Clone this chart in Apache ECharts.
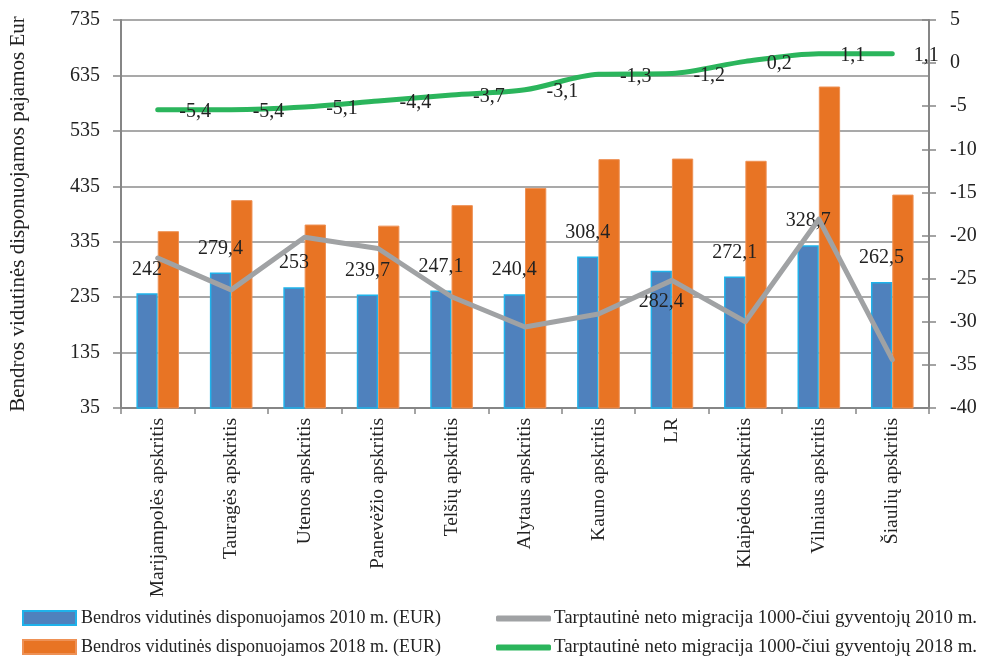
<!DOCTYPE html>
<html>
<head>
<meta charset="utf-8">
<script src="https://cdn.jsdelivr.net/npm/echarts@6/dist/echarts.min.js"></script>
<style>html,body{margin:0;padding:0;background:#fff}#c{width:981px;height:657px}</style>
</head>
<body>
<div id="c"></div>
<script>
const categories = ['Marijampolės apskritis','Tauragės apskritis','Utenos apskritis','Panevėžio apskritis','Telšių apskritis','Alytaus apskritis','Kauno apskritis','LR','Klaipėdos apskritis','Vilniaus apskritis','Šiaulių apskritis'];
const income2010 = [242, 279.4, 253, 239.7, 247.1, 240.4, 308.4, 282.4, 272.1, 328.7, 262.5];
const income2018 = [354, 410, 366, 364, 401, 432, 484, 485, 481, 615, 420];
const migration2010 = [-22.6, -26.3, -20.2, -21.5, -27.1, -30.6, -29.1, -25.2, -30.0, -18.1, -34.4];
const migration2018 = [-5.4, -5.4, -5.1, -4.4, -3.7, -3.1, -1.3, -1.2, 0.2, 1.1, 1.1];
const leftTicks = [35, 135, 235, 335, 435, 535, 635, 735];

const names = ['Bendros vidutinės disponuojamos 2010 m. (EUR)','Bendros vidutinės disponuojamos 2018 m. (EUR)','Tarptautinė neto migracija 1000-čiui gyventojų 2010 m.','Tarptautinė neto migracija 1000-čiui gyventojų 2018 m.'];
const FONT = 'Liberation Serif';
const fmt = v => String(v).replace('.', ',');
const axisGray = '#868686';
const TXT = '#222';

const blueData = income2010.map((v, i) => categories[i] === 'LR'
  ? {value: v, label: {position: 'insideTop', distance: 21}}
  : v);

function leg(name, left, top, isLine) {
  return {
    left: left, top: top, orient: 'horizontal', data: [name],
    icon: isLine ? 'roundRect' : 'rect',
    itemWidth: isLine ? 55 : 53, itemHeight: isLine ? 6 : 14,
    textStyle: {fontFamily: FONT, fontSize: isLine ? 18.9 : 18, color: TXT, padding: [0, 0, 0, isLine ? -2 : 0]}
  };
}

const chart = echarts.init(document.getElementById('c'));
chart.setOption({
  animation: false,
  textStyle: {fontFamily: FONT, color: TXT},
  grid: {left: 118, right: 52, top: 20, bottom: 249},
  legend: [
    leg(names[0], 17, 604, false),
    leg(names[1], 17, 633, false),
    leg(names[2], 491, 604, true),
    leg(names[3], 491, 633, true)
  ],
  xAxis: {
    type: 'category', data: categories,
    axisLine: {onZero: false, lineStyle: {color: axisGray, width: 2}},
    axisTick: {show: true, length: 6, lineStyle: {color: axisGray, width: 1.5}},
    axisLabel: {rotate: 90, fontSize: 19.5, fontFamily: FONT, color: TXT, margin: 10, interval: 0}
  },
  yAxis: [
    {type: 'value', min: 35, max: 735, position: 'left',
     name: 'Bendros vidutinės disponuojamos pajamos Eur', nameLocation: 'middle', nameGap: 92,
     nameTextStyle: {fontSize: 21, fontFamily: FONT, color: TXT},
     axisLine: {show: true, lineStyle: {color: axisGray, width: 2}},
     axisTick: {show: true, length: 8, customValues: leftTicks, lineStyle: {color: axisGray, width: 1.5}},
     axisLabel: {customValues: leftTicks, fontSize: 20, fontFamily: FONT, color: TXT, margin: 21},
     splitLine: {show: false}},
    {type: 'value', min: -40, max: 5, interval: 5, position: 'right',
     axisLine: {show: true, lineStyle: {color: axisGray, width: 2}},
     axisTick: {show: true, length: 7, lineStyle: {color: axisGray, width: 1.5}},
     axisLabel: {fontSize: 20, fontFamily: FONT, color: TXT, margin: 21},
     splitLine: {show: false}},
    {type: 'value', min: 0, max: 7, interval: 1, position: 'left',
     axisLine: {show: false}, axisTick: {show: false}, axisLabel: {show: false},
     splitLine: {show: true, lineStyle: {color: '#8c8c8c', width: 1.5}}},
    {type: 'value', min: -40, max: 5, interval: 5, position: 'right',
     axisLine: {show: false}, axisLabel: {show: false}, splitLine: {show: false},
     axisTick: {show: true, inside: true, length: 7, lineStyle: {color: axisGray, width: 1.5}}}
  ],
  series: [
    {name: names[0], type: 'bar', yAxisIndex: 0, data: blueData,
     barGap: '0%', barCategoryGap: '42%',
     itemStyle: {color: '#4f81bd', borderColor: '#1fb2ea', borderWidth: 1.5},
     label: {show: true, position: 'top', distance: 14, formatter: p => fmt(p.value),
             fontSize: 20, fontFamily: FONT, color: TXT}},
    {name: names[1], type: 'bar', yAxisIndex: 0, data: income2018,
     itemStyle: {color: '#e87424', borderColor: '#ee9155', borderWidth: 1}},
    {name: names[2], type: 'line', yAxisIndex: 1, data: migration2010,
     symbol: 'none', z: 5,
     lineStyle: {color: '#a0a2a4', width: 5, cap: 'round', join: 'round'},
     itemStyle: {color: '#a0a2a4'}},
    {name: names[3], type: 'line', yAxisIndex: 1, data: migration2018,
     symbol: 'circle', symbolSize: 1, showSymbol: true, smooth: 0.3, z: 6,
     lineStyle: {color: '#2bb55c', width: 5, cap: 'round'},
     itemStyle: {color: '#2bb55c'},
     label: {show: true, position: 'right', distance: 21, offset: [0, 2], formatter: p => fmt(p.value),
             fontSize: 20, fontFamily: FONT, color: TXT}}
  ]
});
</script>
</body>
</html>
